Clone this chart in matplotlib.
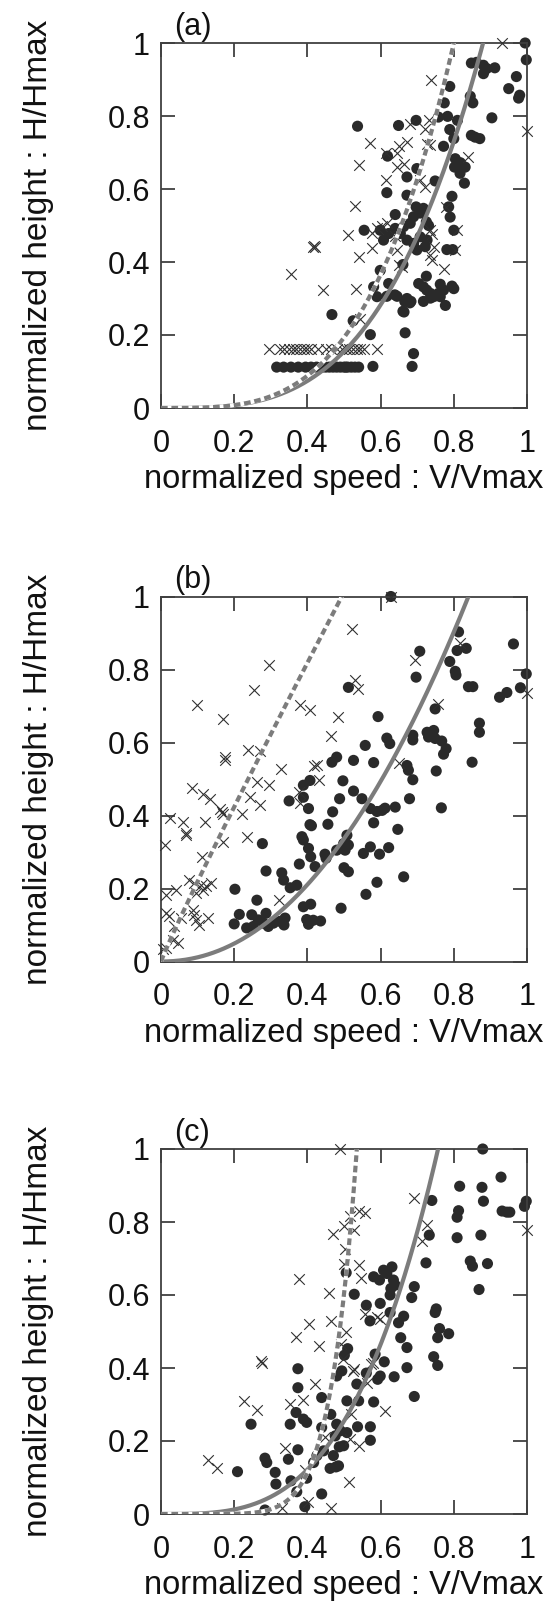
import numpy as np
import matplotlib.pyplot as plt

plt.rcParams['font.family'] = ['Liberation Sans', 'DejaVu Sans']

# ---- panel (a) ----
a_dot_x = [0.995, 0.998, 0.848, 0.862, 0.881, 0.89, 0.912, 0.881, 0.971, 0.950, 0.98, 0.977, 0.789, 0.845,
           0.852, 0.774, 0.904, 0.537, 0.649, 0.697, 0.758, 0.783, 0.810, 0.789, 0.848, 0.858, 0.871, 0.80,
           0.772, 0.619, 0.699, 0.672, 0.804, 0.818, 0.802, 0.831, 0.817, 0.829, 0.749, 0.617, 0.672, 0.795,
           0.786, 0.790, 0.697, 0.717, 0.708, 0.690, 0.681, 0.555, 0.599, 0.608, 0.622, 0.640, 0.663, 0.654,
           0.672, 0.690, 0.708, 0.727, 0.722, 0.699, 0.80, 0.781, 0.797, 0.725, 0.731, 0.64, 0.599, 0.581,
           0.59, 0.617, 0.645, 0.622, 0.672, 0.683, 0.725, 0.704, 0.717, 0.726, 0.736, 0.745, 0.758, 0.772,
           0.717, 0.736, 0.763, 0.763, 0.795, 0.800, 0.777, 0.664, 0.467, 0.525, 0.667, 0.572, 0.690, 0.686,
           0.579, 0.661, 0.639, 0.666, 0.68, 0.661,
           0.316, 0.335, 0.355, 0.375, 0.395, 0.41, 0.425, 0.44, 0.45, 0.46, 0.47, 0.48, 0.49, 0.50, 0.505,
           0.51, 0.52, 0.53, 0.54]
a_dot_y = [1.0, 0.954, 0.945, 0.947, 0.939, 0.93, 0.932, 0.916, 0.908, 0.875, 0.857, 0.849, 0.881, 0.854,
           0.836, 0.836, 0.795, 0.772, 0.774, 0.788, 0.797, 0.799, 0.788, 0.763, 0.747, 0.742, 0.738, 0.738,
           0.717, 0.690, 0.656, 0.633, 0.683, 0.672, 0.660, 0.660, 0.643, 0.616, 0.622, 0.590, 0.583, 0.580,
           0.551, 0.523, 0.551, 0.547, 0.534, 0.524, 0.506, 0.487, 0.487, 0.460, 0.478, 0.492, 0.497, 0.478,
           0.460, 0.451, 0.469, 0.460, 0.442, 0.433, 0.487, 0.434, 0.434, 0.51, 0.50, 0.53, 0.377, 0.332,
           0.305, 0.306, 0.306, 0.341, 0.30, 0.292, 0.361, 0.341, 0.332, 0.323, 0.314, 0.305, 0.314, 0.323,
           0.292, 0.301, 0.305, 0.339, 0.334, 0.327, 0.281, 0.263, 0.256, 0.239, 0.206, 0.201, 0.149, 0.114,
           0.114, 0.393, 0.31, 0.292, 0.288, 0.265,
           0.112, 0.112, 0.112, 0.112, 0.112, 0.112, 0.112, 0.112, 0.112, 0.112, 0.112, 0.112, 0.112, 0.112,
           0.112, 0.112, 0.112, 0.112, 0.112]
a_cross_x = [0.932, 0.738, 1.0, 0.681, 0.731, 0.722, 0.572, 0.615, 0.649, 0.672, 0.645, 0.727, 0.735, 0.540,
             0.615, 0.645, 0.663, 0.709, 0.722, 0.84, 0.531, 0.512, 0.576, 0.59, 0.603, 0.617, 0.64, 0.736,
             0.741, 0.809, 0.78, 0.414, 0.421, 0.418, 0.542, 0.576, 0.645, 0.649, 0.736, 0.745, 0.74, 0.804,
             0.772, 0.355, 0.442, 0.532, 0.544, 0.658,
             0.296, 0.325, 0.335, 0.35, 0.36, 0.37, 0.38, 0.39, 0.40, 0.41, 0.43, 0.45, 0.465, 0.48, 0.495,
             0.505, 0.515, 0.525, 0.535, 0.545, 0.555, 0.59]
a_cross_y = [1.0, 0.900, 0.759, 0.779, 0.788, 0.765, 0.727, 0.699, 0.717, 0.729, 0.699, 0.724, 0.72, 0.667,
             0.624, 0.66, 0.669, 0.624, 0.605, 0.688, 0.553, 0.473, 0.48, 0.493, 0.498, 0.507, 0.47, 0.489,
             0.478, 0.487, 0.55, 0.441, 0.441, 0.445, 0.414, 0.437, 0.432, 0.391, 0.42, 0.44, 0.405, 0.432,
             0.382, 0.366, 0.322, 0.327, 0.245, 0.386,
             0.163, 0.163, 0.163, 0.163, 0.163, 0.163, 0.163, 0.163, 0.163, 0.163, 0.163, 0.163, 0.163, 0.163,
             0.163, 0.163, 0.163, 0.163, 0.163, 0.163, 0.163, 0.163]

# ---- panel (b) ----
b_dot_x = [0.628, 0.813, 0.963, 0.707, 0.809, 0.834, 0.789, 0.804, 0.806, 0.998, 0.697, 0.512, 0.84, 0.852,
           0.982, 0.945, 0.925, 0.749, 0.593, 0.87, 0.87, 0.727, 0.745, 0.731, 0.749, 0.767, 0.779, 0.772,
           0.617, 0.625, 0.688, 0.688, 0.558, 0.467, 0.48, 0.526, 0.581, 0.85, 0.672, 0.676, 0.752, 0.688,
           0.497, 0.407, 0.389, 0.389, 0.526, 0.488, 0.549, 0.679, 0.35, 0.766, 0.403, 0.469, 0.572, 0.59,
           0.604, 0.612, 0.64, 0.581, 0.407, 0.411, 0.456, 0.647, 0.385, 0.389, 0.508, 0.277, 0.499, 0.512,
           0.48, 0.503, 0.572, 0.553, 0.597, 0.622, 0.403, 0.409, 0.448, 0.451, 0.378, 0.421, 0.287, 0.33,
           0.335, 0.5, 0.512, 0.353, 0.371, 0.59, 0.663, 0.56, 0.202, 0.262, 0.389, 0.409, 0.492, 0.214,
           0.2, 0.234, 0.252, 0.248, 0.266, 0.287, 0.28, 0.293, 0.307, 0.325, 0.339, 0.336, 0.398, 0.403,
           0.416, 0.436]
b_dot_y = [1.0, 0.903, 0.870, 0.850, 0.852, 0.858, 0.822, 0.795, 0.785, 0.788, 0.779, 0.751, 0.753, 0.753,
           0.75, 0.737, 0.724, 0.692, 0.671, 0.653, 0.628, 0.628, 0.633, 0.615, 0.611, 0.604, 0.583, 0.568,
           0.612, 0.597, 0.62, 0.607, 0.592, 0.546, 0.56, 0.551, 0.545, 0.546, 0.537, 0.524, 0.522, 0.498,
           0.495, 0.496, 0.483, 0.45, 0.467, 0.446, 0.446, 0.446, 0.44, 0.421, 0.419, 0.41, 0.419, 0.411,
           0.414, 0.42, 0.423, 0.38, 0.375, 0.372, 0.376, 0.362, 0.342, 0.333, 0.346, 0.323, 0.323, 0.319,
           0.305, 0.305, 0.314, 0.296, 0.294, 0.312, 0.31, 0.287, 0.294, 0.283, 0.267, 0.26, 0.248, 0.243,
           0.223, 0.257, 0.246, 0.202, 0.209, 0.217, 0.232, 0.184, 0.198, 0.168, 0.15, 0.157, 0.146, 0.129,
           0.103, 0.092, 0.096, 0.128, 0.114, 0.132, 0.105, 0.096, 0.105, 0.11, 0.119, 0.1, 0.115, 0.102,
           0.113, 0.111]
b_cross_x = [0.628, 0.521, 0.296, 0.695, 0.816, 0.255, 0.531, 0.539, 0.099, 0.169, 0.38, 0.406, 0.483, 0.758,
             1.0, 0.464, 0.239, 0.271, 0.175, 0.176, 0.328, 0.417, 0.425, 0.433, 0.649, 0.084, 0.116, 0.134,
             0.243, 0.262, 0.271, 0.296, 0.378, 0.38, 0.161, 0.17, 0.167, 0.221, 0.025, 0.061, 0.068, 0.067,
             0.12, 0.234, 0.17, 0.011, 0.111, 0.077, 0.091, 0.109, 0.123, 0.137, 0.096, 0.114, 0.041, 0.014,
             0.323, 0.014, 0.023, 0.055, 0.087, 0.091, 0.096, 0.128, 0.105, 0.036, 0.032, 0.046, 0.014, 0.005]
b_cross_y = [1.0, 0.911, 0.811, 0.826, 0.872, 0.745, 0.771, 0.747, 0.703, 0.665, 0.704, 0.689, 0.671, 0.706,
             0.735, 0.619, 0.58, 0.578, 0.56, 0.552, 0.528, 0.535, 0.537, 0.496, 0.544, 0.474, 0.46, 0.446,
             0.451, 0.492, 0.428, 0.483, 0.464, 0.433, 0.419, 0.405, 0.41, 0.405, 0.392, 0.383, 0.346, 0.352,
             0.383, 0.34, 0.328, 0.319, 0.287, 0.224, 0.215, 0.21, 0.206, 0.215, 0.188, 0.197, 0.197, 0.183,
             0.169, 0.133, 0.124, 0.119, 0.142, 0.128, 0.115, 0.119, 0.101, 0.096, 0.06, 0.051, 0.037, 0.033]

# ---- panel (c) ----
c_dot_x = [0.879, 0.929, 0.816, 0.877, 0.74, 0.881, 0.998, 0.993, 0.813, 0.809, 0.932, 0.945, 0.953, 0.733,
           0.809, 0.874, 0.724, 0.845, 0.851, 0.892, 0.869, 0.631, 0.608, 0.617, 0.581, 0.597, 0.635, 0.64,
           0.628, 0.626, 0.692, 0.685, 0.506, 0.528, 0.561, 0.599, 0.752, 0.749, 0.571, 0.626, 0.663, 0.649,
           0.761, 0.786, 0.756, 0.655, 0.672, 0.51, 0.501, 0.585, 0.745, 0.756, 0.61, 0.374, 0.672, 0.494,
           0.48, 0.561, 0.599, 0.592, 0.637, 0.535, 0.374, 0.692, 0.439, 0.508, 0.54, 0.581, 0.369, 0.246,
           0.353, 0.389, 0.398, 0.464, 0.48, 0.49, 0.537, 0.572, 0.572, 0.508, 0.499, 0.476, 0.439, 0.374,
           0.348, 0.284, 0.289, 0.444, 0.426, 0.417, 0.471, 0.485, 0.462, 0.209, 0.312, 0.314, 0.355, 0.439,
           0.371, 0.393, 0.284, 0.398, 0.487, 0.478]
c_dot_y = [1.0, 0.923, 0.898, 0.895, 0.859, 0.857, 0.857, 0.843, 0.831, 0.813, 0.83, 0.827, 0.827, 0.764,
           0.757, 0.764, 0.688, 0.693, 0.679, 0.686, 0.615, 0.677, 0.668, 0.659, 0.65, 0.641, 0.641, 0.627,
           0.618, 0.6, 0.623, 0.593, 0.661, 0.602, 0.572, 0.577, 0.562, 0.552, 0.529, 0.552, 0.542, 0.524,
           0.508, 0.494, 0.483, 0.483, 0.456, 0.453, 0.435, 0.438, 0.431, 0.407, 0.417, 0.398, 0.401, 0.392,
           0.378, 0.386, 0.378, 0.369, 0.376, 0.356, 0.346, 0.322, 0.319, 0.31, 0.31, 0.307, 0.278, 0.246,
           0.246, 0.26, 0.251, 0.273, 0.246, 0.228, 0.239, 0.239, 0.202, 0.223, 0.187, 0.214, 0.237, 0.176,
           0.15, 0.153, 0.141, 0.173, 0.16, 0.141, 0.16, 0.132, 0.125, 0.116, 0.114, 0.082, 0.091, 0.055,
           0.061, 0.02, 0.011, 0.098, 0.184, 0.129]
c_cross_x = [0.49, 0.692, 0.54, 0.558, 0.517, 0.499, 0.526, 0.471, 0.727, 0.713, 1.0, 0.503, 0.501, 0.54,
             0.546, 0.378, 0.46, 0.558, 0.59, 0.599, 0.405, 0.465, 0.506, 0.368, 0.432, 0.492, 0.273, 0.275,
             0.497, 0.526, 0.578, 0.421, 0.562, 0.228, 0.263, 0.353, 0.389, 0.613, 0.448, 0.339, 0.517, 0.54,
             0.129, 0.152, 0.515, 0.33, 0.402, 0.464, 0.574, 0.524, 0.519, 0.393]
c_cross_y = [1.0, 0.866, 0.831, 0.825, 0.816, 0.789, 0.778, 0.766, 0.793, 0.749, 0.779, 0.727, 0.684, 0.681,
             0.647, 0.644, 0.606, 0.547, 0.541, 0.533, 0.52, 0.529, 0.5, 0.486, 0.46, 0.465, 0.419, 0.415,
             0.424, 0.397, 0.415, 0.357, 0.36, 0.31, 0.284, 0.301, 0.313, 0.283, 0.21, 0.182, 0.205, 0.187,
             0.148, 0.126, 0.088, 0.016, 0.034, 0.016, 0.412, 0.393, 0.273, 0.12]

# fitted curves H/Hmax = (V/V1)^p : (V1 solid, p solid, V1 dashed, p dashed)
fits = {
    'a': (0.88, 3.3, 0.80, 3.5),
    'b': (0.84, 2.1, 0.494, 0.95),
    'c': (0.757, 3.3, 0.535, 7.5),
}

panels = [
    ('a', a_dot_x, a_dot_y, a_cross_x, a_cross_y, 408),
    ('b', b_dot_x, b_dot_y, b_cross_x, b_cross_y, 961.5),
    ('c', c_dot_x, c_dot_y, c_cross_x, c_cross_y, 1514),
]

W, H = 548, 1614
fig = plt.figure(figsize=(W / 100, H / 100), dpi=100)

ticks = [0, 0.2, 0.4, 0.6, 0.8, 1]
tick_labels = ['0', '0.2', '0.4', '0.6', '0.8', '1']
spine_col = '#404040'
curve_col = '#7c7c7c'
text_col = '#111111'

for name, dx, dy, cx, cy, bottom_px in panels:
    ax = fig.add_axes([161 / W, (H - bottom_px) / H, 366 / W, 365 / H])

    ax.scatter(dx, dy, s=64, color='#2a2a2a', edgecolors='none', zorder=2, clip_on=False)
    ax.scatter(cx, cy, s=58, marker='x', color='#303030', linewidths=0.8, zorder=3, clip_on=False)

    v1s, ps, v1d, pd_ = fits[name]
    xs = np.linspace(0, v1s, 300)
    ax.plot(xs, (xs / v1s) ** ps, color=curve_col, lw=3.0, zorder=4)
    xd = np.linspace(0, v1d, 300)
    yd = (xd / v1d) ** pd_
    ax.plot(xd, yd, color='white', lw=3.0, zorder=4)
    ax.plot(xd, yd, color=curve_col, lw=3.0, linestyle=(0, (1.6, 0.9)), zorder=5)

    ax.set_xlim(0, 1)
    ax.set_ylim(0, 1)
    ax.set_xticks(ticks)
    ax.set_yticks(ticks)
    ax.set_xticklabels(tick_labels)
    ax.set_yticklabels(tick_labels)
    ax.tick_params(direction='in', length=10, width=1.3, color=spine_col,
                   top=True, right=True, labelsize=22, labelcolor=text_col)
    ax.tick_params(axis='x', pad=15)
    ax.tick_params(axis='y', pad=8)
    for sp in ax.spines.values():
        sp.set_color(spine_col)
        sp.set_linewidth(1.3)

    ax.set_xlabel('normalized speed : V/Vmax', fontsize=23.5, color=text_col)
    ax.set_ylabel('normalized height : H/Hmax', fontsize=24, color=text_col)
    ax.xaxis.set_label_coords(0.5, -0.197)
    ax.xaxis.label.set_va('center')
    ax.yaxis.set_label_coords(-0.335, 0.5)
    ax.yaxis.label.set_va('center')

    ax.text(0.035, 1.045, '(' + name + ')', transform=ax.transAxes, fontsize=22,
            ha='left', va='center', color=text_col)

fig.savefig('out.png', dpi=100)
